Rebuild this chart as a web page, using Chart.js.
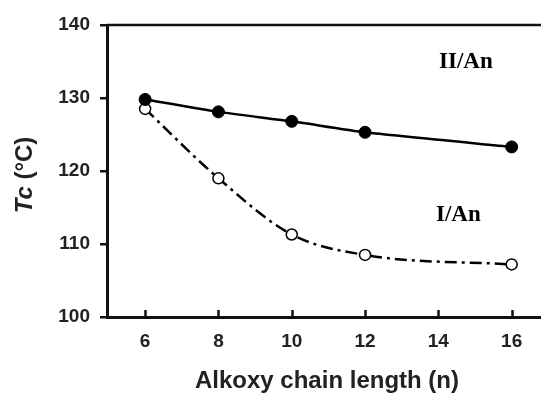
<!DOCTYPE html>
<html>
<head>
<meta charset="utf-8">
<script src="https://cdn.jsdelivr.net/npm/chart.js@4/dist/chart.umd.min.js"></script>
<style>
  body { margin: 0; background: #fff; }
  #wrap { width: 541px; height: 397px; }
</style>
</head>
<body>
<div id="wrap"><canvas id="chart" width="541" height="397"></canvas></div>
<script>
// chain length n
const chainLength = [6, 8, 10, 12, 16];
// Tc values (°C)
const tcII = [129.8, 128.1, 126.8, 125.3, 123.3];
const tcI = [128.5, 119.0, 111.3, 108.5, 107.2];
// tick labels
const xTicks = [6, 8, 10, 12, 14, 16];
const yTicks = [100, 110, 120, 130, 140];

const axisColor = "#111";
const textColor = "#222";

function toPoints(xs, ys) {
    return xs.map((x, i) => ({ x: x, y: ys[i] }));
}

// Extra drawing: top frame line, inward x ticks, y title, series labels
const decorations = {
    id: "decorations",
    afterDraw(chart) {
        const ctx = chart.ctx;
        const area = chart.chartArea;
        const xs = chart.scales.x;
        ctx.save();

        // top frame line
        ctx.strokeStyle = axisColor;
        ctx.lineWidth = 2.5;
        ctx.beginPath();
        ctx.moveTo(area.left, area.top);
        ctx.lineTo(chart.width, area.top);
        ctx.stroke();

        // x ticks pointing inward
        xTicks.forEach(v => {
            const px = Math.round(xs.getPixelForValue(v)) + 0.5;
            ctx.beginPath();
            ctx.moveTo(px, area.bottom);
            ctx.lineTo(px, area.bottom - 7);
            ctx.stroke();
        });

        // y axis title: italic Tc + (°C)
        ctx.fillStyle = textColor;
        ctx.translate(25, (area.top + area.bottom) / 2 + 4);
        ctx.rotate(-Math.PI / 2);
        ctx.textBaseline = "middle";
        const part1 = "Tc";
        const part2 = " (°C)";
        ctx.font = "italic bold 24px 'Liberation Sans', Arial, sans-serif";
        const w1 = ctx.measureText(part1).width;
        ctx.font = "bold 24px 'Liberation Sans', Arial, sans-serif";
        const w2 = ctx.measureText(part2).width;
        const start = -(w1 + w2) / 2;
        ctx.font = "italic bold 24px 'Liberation Sans', Arial, sans-serif";
        ctx.fillText(part1, start, 0);
        ctx.font = "bold 24px 'Liberation Sans', Arial, sans-serif";
        ctx.fillText(part2, start + w1, 0);
        ctx.restore();

        // x axis title
        ctx.save();
        ctx.fillStyle = textColor;
        ctx.font = "bold 24px 'Liberation Sans', Arial, sans-serif";
        ctx.textAlign = "center";
        ctx.textBaseline = "middle";
        ctx.fillText("Alkoxy chain length (n)", 327, 381);

        // series labels
        ctx.fillStyle = "#000";
        ctx.font = "bold 23px 'Liberation Serif', 'Times New Roman', serif";
        ctx.textAlign = "left";
        ctx.fillText("II/An", 439, 62);
        ctx.fillText("I/An", 436, 215);
        ctx.restore();
    }
};

new Chart(document.getElementById("chart"), {
    type: "scatter",
    data: {
        datasets: [
            {
                label: "II/An",
                data: toPoints(chainLength, tcII),
                showLine: true,
                borderColor: "#000",
                borderWidth: 2.5,
                tension: 0.2,
                pointRadius: 6,
                pointBackgroundColor: "#000",
                pointBorderColor: "#000",
                pointBorderWidth: 1
            },
            {
                label: "I/An",
                data: toPoints(chainLength, tcI),
                showLine: true,
                borderColor: "#000",
                borderWidth: 2.5,
                borderDash: [12, 5, 3, 5],
                cubicInterpolationMode: "monotone",
                pointRadius: 5.5,
                pointBackgroundColor: "#fff",
                pointBorderColor: "#000",
                pointBorderWidth: 1.5
            }
        ]
    },
    options: {
        responsive: false,
        animation: false,
        layout: { autoPadding: false, padding: { top: 25, left: 0, right: 0, bottom: 0 } },
        plugins: {
            legend: { display: false },
            tooltip: { enabled: false }
        },
        scales: {
            x: {
                type: "linear",
                min: 4.96,
                max: 16.8,
                afterFit: scale => {
                    scale.height = 80;
                    scale.paddingLeft = 0;
                    scale.paddingRight = 0;
                },
                afterBuildTicks: scale => { scale.ticks = xTicks.map(v => ({ value: v })); },
                grid: { display: false, drawTicks: false },
                border: { display: true, color: axisColor, width: 3 },
                ticks: {
                    padding: 13,
                    color: textColor,
                    font: { family: "'Liberation Sans', Arial, sans-serif", size: 19, weight: "bold" }
                }
            },
            y: {
                min: 100,
                max: 140,
                afterFit: scale => { scale.width = 107; },
                afterBuildTicks: scale => { scale.ticks = yTicks.map(v => ({ value: v })); },
                grid: {
                    display: true,
                    drawOnChartArea: false,
                    drawTicks: true,
                    tickLength: 7,
                    color: axisColor,
                    lineWidth: 2.5
                },
                border: { display: true, color: axisColor, width: 3 },
                ticks: {
                    padding: 10,
                    color: textColor,
                    font: { family: "'Liberation Sans', Arial, sans-serif", size: 19, weight: "bold" }
                }
            }
        }
    },
    plugins: [decorations]
});
</script>
</body>
</html>
